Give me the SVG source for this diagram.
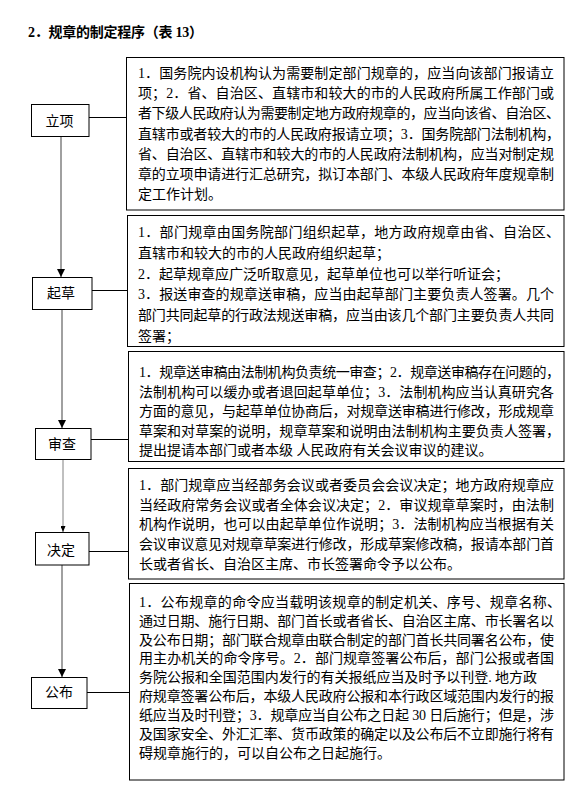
<svg xmlns="http://www.w3.org/2000/svg" width="569" height="791" viewBox="0 0 569 791">
<style>
.bg{fill:#fff}
.box{fill:#fff;stroke:#000;stroke-width:1}
.t{font-family:"Liberation Serif","Noto Sans CJK SC",serif;font-size:14px;fill:#000}
.n{font-family:"Noto Sans CJK SC",sans-serif;font-size:14px;fill:#000;text-anchor:middle}
.ttl{font-family:"Liberation Serif","Noto Sans CJK SC",serif;font-size:14px;font-weight:bold;fill:#000}
.h{stroke:#000;stroke-width:1;fill:none}
.v{stroke:#808080;stroke-width:1.5;fill:none}
.v2{stroke:#808080;stroke-width:1;fill:none}
</style>
<defs>
<marker id="arr" viewBox="0 0 8 8" refX="8" refY="4" markerWidth="8" markerHeight="8" markerUnits="userSpaceOnUse" orient="auto">
<path d="M0,0 L8,4 L0,8 z" fill="#000"/>
</marker>
<marker id="arrs" viewBox="0 0 6 5" refX="6" refY="2.5" markerWidth="6" markerHeight="5" markerUnits="userSpaceOnUse" orient="auto">
<path d="M0,0 L6,2.5 L0,5 z" fill="#000"/>
</marker>
</defs>
<rect class="bg" x="0" y="0" width="569" height="791"/>
<text class="ttl" x="28" y="37" textLength="175" lengthAdjust="spacing">2．规章的制定程序（表 13）</text>

<g id="connectors">
<line class="h" x1="89" y1="117.5" x2="126.5" y2="117.5"/>
<line class="h" x1="92" y1="290.5" x2="127.5" y2="290.5"/>
<line class="h" x1="91" y1="439.5" x2="128.5" y2="439.5"/>
<line class="h" x1="89" y1="551.5" x2="128.5" y2="551.5"/>
<line class="h" x1="87" y1="692.5" x2="129.5" y2="692.5"/>
<line class="v" x1="61" y1="137" x2="61" y2="277" marker-end="url(#arr)"/>
<line class="v" x1="62" y1="309" x2="62" y2="428" marker-end="url(#arr)"/>
<line class="v2" x1="63" y1="459" x2="63" y2="532" marker-end="url(#arrs)"/>
<line class="v" x1="62" y1="565" x2="62" y2="677" marker-end="url(#arr)"/>
</g>

<g id="node-lixiang">
<rect class="box" x="31.5" y="104.5" width="57.5" height="32"/>
<text class="n" x="59.5" y="126">立项</text>
</g>
<g id="node-qicao">
<rect class="box" x="32.5" y="277.5" width="59.5" height="32"/>
<text class="n" x="61" y="298">起草</text>
</g>
<g id="node-shencha">
<rect class="box" x="35.5" y="428.5" width="55.5" height="31"/>
<text class="n" x="62" y="449">审查</text>
</g>
<g id="node-jueding">
<rect class="box" x="35.5" y="532.5" width="53.5" height="32.5"/>
<text class="n" x="61" y="555">决定</text>
</g>
<g id="node-gongbu">
<rect class="box" x="31.5" y="677.5" width="55.5" height="31"/>
<text class="n" x="59" y="697">公布</text>
</g>

<g id="desc-lixiang">
<rect class="box" x="126.5" y="57.5" width="437.5" height="152.5"/>
<text class="t" x="138" y="78" textLength="416" lengthAdjust="spacing">1．国务院内设机构认为需要制定部门规章的，应当向该部门报请立</text>
<text class="t" x="138" y="98.2" textLength="416" lengthAdjust="spacing">项；2．省、自治区、直辖市和较大的市的人民政府所属工作部门或</text>
<text class="t" x="138" y="118.4" textLength="422" lengthAdjust="spacing">者下级人民政府认为需要制定地方政府规章的，应当向该省、自治区、</text>
<text class="t" x="138" y="138.6" textLength="422" lengthAdjust="spacing">直辖市或者较大的市的人民政府报请立项；3．国务院部门法制机构，</text>
<text class="t" x="138" y="158.8" textLength="416" lengthAdjust="spacing">省、自治区、直辖市和较大的市的人民政府法制机构，应当对制定规</text>
<text class="t" x="138" y="179" textLength="416" lengthAdjust="spacing">章的立项申请进行汇总研究，拟订本部门、本级人民政府年度规章制</text>
<text class="t" x="138" y="199.2">定工作计划。</text>
</g>

<g id="desc-qicao">
<rect class="box" x="127.5" y="215.5" width="436.5" height="131"/>
<text class="t" x="138" y="237" textLength="422" lengthAdjust="spacing">1．部门规章由国务院部门组织起草，地方政府规章由省、自治区、</text>
<text class="t" x="138" y="257.8">直辖市和较大的市的人民政府组织起草；</text>
<text class="t" x="138" y="278.6">2．起草规章应广泛听取意见，起草单位也可以举行听证会；</text>
<text class="t" x="138" y="299.4" textLength="416" lengthAdjust="spacing">3．报送审查的规章送审稿，应当由起草部门主要负责人签署。几个</text>
<text class="t" x="138" y="320.2" textLength="416" lengthAdjust="spacing">部门共同起草的行政法规送审稿，应当由该几个部门主要负责人共同</text>
<text class="t" x="138" y="341">签署；</text>
</g>

<g id="desc-shencha">
<rect class="box" x="128.5" y="351.5" width="435.5" height="110"/>
<text class="t" x="139" y="377" textLength="421" lengthAdjust="spacing">1．规章送审稿由法制机构负责统一审查；2．规章送审稿存在问题的，</text>
<text class="t" x="139" y="396.5" textLength="415" lengthAdjust="spacing">法制机构可以缓办或者退回起草单位；3．法制机构应当认真研究各</text>
<text class="t" x="139" y="416" textLength="415" lengthAdjust="spacing">方面的意见，与起草单位协商后，对规章送审稿进行修改，形成规章</text>
<text class="t" x="139" y="435.5" textLength="421" lengthAdjust="spacing">草案和对草案的说明，规章草案和说明由法制机构主要负责人签署，</text>
<text class="t" x="139" y="455">提出提请本部门或者本级 人民政府有关会议审议的建议。</text>
</g>

<g id="desc-jueding">
<rect class="box" x="128.5" y="468.5" width="435.5" height="110.5"/>
<text class="t" x="139" y="490" textLength="415" lengthAdjust="spacing">1．部门规章应当经部务会议或者委员会会议决定；地方政府规章应</text>
<text class="t" x="139" y="509.7" textLength="415" lengthAdjust="spacing">当经政府常务会议或者全体会议决定；2．审议规章草案时，由法制</text>
<text class="t" x="139" y="529.4" textLength="415" lengthAdjust="spacing">机构作说明，也可以由起草单位作说明；3．法制机构应当根据有关</text>
<text class="t" x="139" y="549.1" textLength="415" lengthAdjust="spacing">会议审议意见对规章草案进行修改，形成草案修改稿，报请本部门首</text>
<text class="t" x="139" y="568.8">长或者省长、自治区主席、市长签署命令予以公布。</text>
</g>

<g id="desc-gongbu">
<rect class="box" x="129.5" y="583.5" width="434.5" height="196.5"/>
<text class="t" x="139" y="606.7" textLength="422" lengthAdjust="spacing">1．公布规章的命令应当载明该规章的制定机关、序号、规章名称、</text>
<text class="t" x="139" y="625.6" textLength="415" lengthAdjust="spacing">通过日期、施行日期、部门首长或者省长、自治区主席、市长署名以</text>
<text class="t" x="139" y="644.5" textLength="415" lengthAdjust="spacing">及公布日期；部门联合规章由联合制定的部门首长共同署名公布，使</text>
<text class="t" x="139" y="663.4" textLength="415" lengthAdjust="spacing">用主办机关的命令序号。2．部门规章签署公布后，部门公报或者国</text>
<text class="t" x="139" y="682.3" textLength="398" lengthAdjust="spacing">务院公报和全国范围内发行的有关报纸应当及时予以刊登. 地方政</text>
<text class="t" x="139" y="701.2" textLength="415" lengthAdjust="spacing">府规章签署公布后，本级人民政府公报和本行政区域范围内发行的报</text>
<text class="t" x="139" y="720.1" textLength="415" lengthAdjust="spacing">纸应当及时刊登；3．规章应当自公布之日起 30 日后施行；但是，涉</text>
<text class="t" x="139" y="739" textLength="415" lengthAdjust="spacing">及国家安全、外汇汇率、货币政策的确定以及公布后不立即施行将有</text>
<text class="t" x="139" y="757.9">碍规章施行的，可以自公布之日起施行。</text>
</g>
</svg>
